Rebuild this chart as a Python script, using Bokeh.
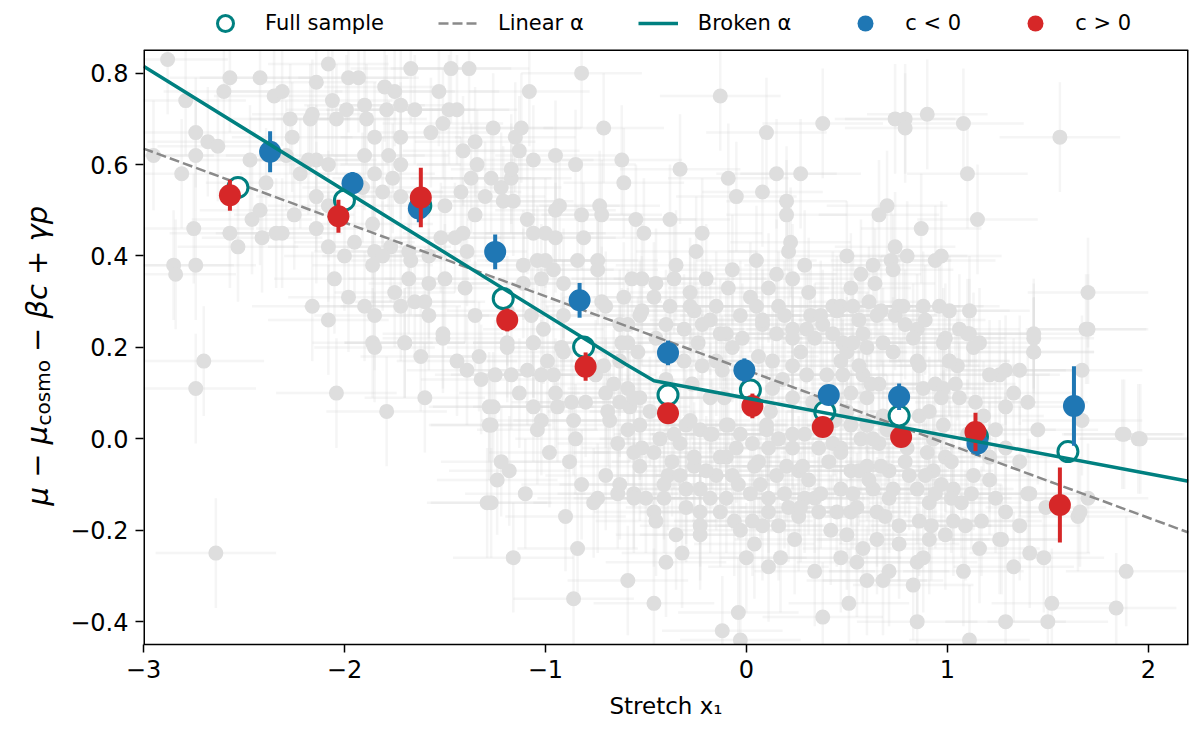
from bokeh.plotting import figure
from bokeh.models import Range1d, Legend, LegendItem, Label, FixedTicker
from bokeh.embed import file_html
from bokeh.resources import INLINE

# binned points: full sample, c < 0, c > 0
full_x = [-2.53, -2.00, -1.62, -1.21, -0.81, -0.39, 0.02, 0.39, 0.76, 1.15, 1.60]
full_y = [0.550, 0.522, 0.510, 0.307, 0.201, 0.096, 0.107, 0.059, 0.050, 0.005, -0.028]

blue_x = [-2.37, -1.96, -1.63, -1.25, -0.83, -0.39, -0.01, 0.41, 0.76, 1.15, 1.63]
blue_y = [0.628, 0.559, 0.504, 0.409, 0.303, 0.188, 0.150, 0.096, 0.092, -0.010, 0.072]
blue_err = [0.045, 0.025, 0.030, 0.038, 0.038, 0.027, 0.026, 0.020, 0.029, 0.027, 0.087]

red_x = [-2.57, -2.03, -1.62, -1.19, -0.80, -0.39, 0.03, 0.38, 0.77, 1.14, 1.56]
red_y = [0.533, 0.487, 0.528, 0.260, 0.158, 0.056, 0.072, 0.026, 0.004, 0.015, -0.145]
red_err = [0.034, 0.036, 0.065, 0.025, 0.031, 0.020, 0.027, 0.020, 0.020, 0.042, 0.082]

# fitted relations
linear_x = [-3.0, 2.2]
linear_y = [0.635, -0.205]
broken_x = [-3.0, -0.60, -0.46, -0.30, 2.2]
broken_y = [0.815, 0.163, 0.127, 0.114, -0.093]

# individual supernovae (background)
gray_pts = [
    (-2.88, 0.83), (-2.57, 0.79), (-2.42, 0.79), (-2.60, 0.76), (-2.79, 0.74), (-2.35, 0.75),
    (-2.31, 0.76), (-2.08, 0.82), (-2.14, 0.78), (-1.98, 0.79), (-1.93, 0.79), (-1.67, 0.81),
    (-1.47, 0.81), (-1.38, 0.81), (-2.06, 0.74), (-1.99, 0.72), (-1.90, 0.73), (-1.80, 0.77),
    (-1.75, 0.76), (-1.72, 0.73), (-1.79, 0.72), (-1.65, 0.72), (-1.53, 0.76), (-1.48, 0.72),
    (-1.44, 0.72), (-2.27, 0.70), (-2.17, 0.70), (-2.16, 0.71), (-2.04, 0.70), (-1.89, 0.70),
    (-1.85, 0.66), (-1.72, 0.66), (-1.57, 0.67), (-1.51, 0.69), (-2.74, 0.67), (-2.68, 0.65),
    (-2.63, 0.64), (-2.26, 0.66), (-2.95, 0.62), (-2.74, 0.62), (-2.47, 0.61), (-2.29, 0.62),
    (-2.18, 0.61), (-2.14, 0.61), (-2.08, 0.60), (-1.90, 0.62), (-1.78, 0.62), (-1.72, 0.60),
    (-1.85, 0.58), (-1.76, 0.57), (-1.41, 0.63), (-1.35, 0.65), (-1.34, 0.60), (-1.37, 0.57),
    (-2.81, 0.58), (-2.39, 0.56), (-2.22, 0.58), (-2.14, 0.53), (-2.08, 0.51), (-1.91, 0.55),
    (-1.81, 0.54), (-1.72, 0.53), (-1.50, 0.51), (-1.42, 0.54), (-1.35, 0.49), (-1.30, 0.53),
    (-2.75, 0.46), (-2.57, 0.45), (-2.53, 0.42), (-2.46, 0.48), (-2.42, 0.50), (-2.41, 0.44),
    (-2.34, 0.45), (-2.31, 0.45), (-2.25, 0.49), (-2.14, 0.46), (-2.08, 0.42), (-2.00, 0.40),
    (-1.95, 0.43), (-1.86, 0.47), (-1.85, 0.41), (-1.77, 0.42), (-1.68, 0.41), (-1.67, 0.39),
    (-1.58, 0.40), (-1.52, 0.44), (-1.45, 0.44), (-1.41, 0.45), (-1.39, 0.41), (-2.85, 0.38),
    (-2.84, 0.36), (-2.74, 0.38), (-2.05, 0.35), (-1.98, 0.31), (-1.86, 0.38), (-1.81, 0.40),
    (-1.75, 0.32), (-1.68, 0.35), (-1.58, 0.34), (-1.50, 0.35), (-1.40, 0.33), (-2.16, 0.29),
    (-2.08, 0.26), (-1.90, 0.29), (-1.85, 0.27), (-1.72, 0.29), (-1.65, 0.30), (-1.60, 0.30),
    (-1.58, 0.27), (-1.51, 0.23), (-1.35, 0.27), (-1.70, 0.21), (-1.86, 0.21),
    (-2.70, 0.17), (-2.74, 0.11), (-2.64, -0.25), (-2.04, 0.10), (-1.85, 0.20), (-1.70, 0.21),
    (-1.62, 0.18), (-1.79, 0.06), (-1.60, 0.09), (-1.51, 0.22), (-1.44, 0.17), (-1.39, 0.15),
    (-1.33, 0.18), (-1.32, 0.13), (-1.28, 0.07), (-1.28, 0.03), (-1.29, -0.14),
    (-0.82, 0.80), (-1.08, 0.76), (-0.13, 0.75), (0.38, 0.69), (0.10, 0.67), (-1.26, 0.68),
    (-1.15, 0.66), (-1.12, 0.68), (-0.71, 0.68), (-1.13, 0.63), (-1.06, 0.61), (-0.95, 0.62),
    (-0.85, 0.60), (-0.62, 0.61), (-0.33, 0.59), (-0.09, 0.57), (0.15, 0.58), (0.27, 0.58),
    (-0.05, 0.53), (0.08, 0.54), (0.20, 0.52), (0.20, 0.49), (-1.27, 0.57), (-1.22, 0.55),
    (-1.17, 0.57), (-1.17, 0.59), (-0.61, 0.56), (-1.21, 0.52), (-1.16, 0.52), (-0.93, 0.51),
    (-0.95, 0.50), (-0.82, 0.49), (-0.73, 0.51), (-0.72, 0.49), (-0.55, 0.48), (-0.51, 0.45),
    (-0.38, 0.48), (-0.22, 0.45), (-1.09, 0.48), (-1.06, 0.45), (-1.00, 0.45), (-0.95, 0.44),
    (-0.81, 0.44), (0.22, 0.43), (0.21, 0.41), (-0.25, 0.41), (-0.84, 0.39), (-0.74, 0.39),
    (-0.74, 0.37), (-0.35, 0.38), (-0.07, 0.37), (0.05, 0.39), (0.29, 0.38), (0.15, 0.36),
    (0.23, 0.35), (-1.11, 0.38), (-1.04, 0.39), (-1.00, 0.39), (-0.96, 0.37), (-0.57, 0.35),
    (-0.52, 0.35), (-0.45, 0.34), (-0.36, 0.35), (-0.28, 0.32), (-0.09, 0.33), (0.11, 0.33),
    (0.43, 0.29), (-1.11, 0.34), (-1.02, 0.35), (-0.91, 0.34), (-0.72, 0.30), (-0.61, 0.31),
    (-0.46, 0.31), (-0.38, 0.29), (-0.26, 0.28), (-0.15, 0.29), (-0.03, 0.27), (0.05, 0.29),
    (0.16, 0.29), (0.32, 0.27), (0.38, 0.25), (-1.19, 0.28), (-1.07, 0.27), (-1.01, 0.24),
    (-0.91, 0.27), (-0.63, 0.25), (-0.53, 0.27), (-0.40, 0.25), (-0.31, 0.24), (-0.22, 0.25),
    (-0.10, 0.23), (0.08, 0.25), (0.15, 0.23), (0.23, 0.24), (0.34, 0.22), (0.43, 0.23),
    (-1.19, 0.21), (-1.06, 0.21), (-0.92, 0.20), (-0.59, 0.21),
    (-1.19, 0.20), (-1.06, 0.21), (-0.99, 0.17), (-0.91, 0.19), (-1.25, 0.14), (-1.17, 0.14),
    (-1.09, 0.15), (-1.02, 0.14), (-0.96, 0.14), (-0.71, 0.16), (-0.63, 0.17), (-0.54, 0.19),
    (-0.66, 0.12), (-0.59, 0.11), (-0.53, 0.09), (-1.26, 0.07), (-1.27, 0.03), (-1.06, 0.07),
    (-1.02, 0.04), (-1.04, 0.02), (-0.94, 0.07), (-0.87, 0.08), (-0.86, 0.04), (-0.69, 0.06),
    (-0.68, 0.04), (-0.58, 0.07), (-0.53, 0.03), (-0.59, 0.02), (-0.64, -0.01), (-0.85, 0.00),
    (-0.88, -0.05), (-0.98, -0.03), (-1.22, -0.05), (-1.18, -0.07), (-1.24, -0.09), (-1.10, -0.12),
    (-1.27, -0.14), (-0.82, -0.10), (-0.74, -0.13), (-0.76, -0.14), (-0.64, -0.12), (-0.56, -0.03),
    (-0.53, -0.06), (-0.46, -0.03), (-0.43, 0.00), (-0.36, 0.01), (-0.30, 0.03), (-0.23, 0.02),
    (-0.17, 0.01), (-0.10, 0.03), (-0.03, 0.01), (0.03, -0.01), (0.10, 0.02), (0.16, 0.00),
    (0.23, -0.02), (0.29, 0.01), (0.36, -0.02), (0.43, -0.01), (-0.56, -0.12), (-0.50, -0.13),
    (-0.46, -0.16), (-0.45, -0.18), (-0.41, -0.13), (-0.39, -0.08), (-0.33, -0.08), (-0.30, -0.11),
    (-0.23, -0.11), (-0.26, -0.06), (-0.23, -0.16), (-0.23, -0.19), (-0.23, -0.21), (-0.35, -0.21),
    (-0.15, -0.08), (-0.10, -0.04), (-0.07, -0.08), (-0.10, -0.13), (0.02, -0.12), (-0.06, -0.18),
    (-0.03, -0.20), (0.03, -0.18), (0.08, -0.19), (0.11, -0.16), (0.04, -0.23), (0.16, -0.19),
    (0.21, -0.15), (0.26, -0.17), (0.29, -0.13), (0.34, -0.13), (0.36, -0.16), (0.20, -0.06),
    (0.26, -0.07), (0.06, -0.05), (0.11, -0.02), (-0.84, -0.24), (-1.16, -0.26), (-0.40, -0.27),
    (-0.59, -0.31), (-0.86, -0.35), (-0.46, -0.36), (-0.04, -0.38), (-0.12, -0.42), (0.11, -0.28),
    (0.34, -0.29), (0.38, -0.39), (-0.03, -0.44),
    (0.74, 0.70), (0.79, 0.70), (0.79, 0.68), (0.90, 0.71), (1.08, 0.69), (1.56, 0.66),
    (1.10, 0.58), (1.15, 0.48), (0.70, 0.51), (0.66, 0.49), (0.87, 0.46), (0.50, 0.40),
    (0.74, 0.42), (0.63, 0.38), (0.72, 0.39), (0.80, 0.40), (0.94, 0.39), (0.97, 0.40),
    (0.57, 0.36), (0.73, 0.37), (1.70, 0.32), (1.70, 0.24), (1.43, 0.22), (0.47, 0.29),
    (0.53, 0.29), (0.61, 0.30), (0.65, 0.27), (0.76, 0.29), (0.88, 0.29), (0.96, 0.29),
    (1.11, 0.28), (0.74, 0.27), (0.79, 0.25), (0.85, 0.24), (1.06, 0.24), (1.11, 0.23),
    (0.99, 0.22), (1.16, 0.21), (0.58, 0.23), (0.68, 0.21), (0.48, 0.21),
    (0.50, 0.19), (0.60, 0.20), (0.73, 0.19), (0.85, 0.17), (0.98, 0.21), (1.01, 0.17),
    (1.05, 0.16), (1.13, 0.20), (1.26, 0.14), (1.36, 0.15), (1.43, 0.19), (1.67, 0.15),
    (0.48, 0.14), (0.58, 0.14), (0.66, 0.12), (0.88, 0.11), (0.94, 0.12), (0.98, 0.11),
    (1.06, 0.09), (1.14, 0.08), (1.29, 0.07), (1.40, 0.08), (1.67, 0.04), (1.87, 0.01),
    (1.96, 0.00), (0.50, 0.06), (0.60, 0.03), (0.68, 0.05), (0.86, 0.05), (0.98, 0.03),
    (1.24, 0.02), (1.29, -0.02), (0.47, -0.02), (0.57, 0.00), (0.66, -0.01), (0.80, -0.02),
    (0.90, -0.03), (0.99, -0.04), (0.52, -0.07), (0.60, -0.06), (0.71, -0.07), (0.81, -0.08),
    (0.93, -0.07), (1.13, -0.08), (1.21, -0.09), (0.47, -0.11), (0.53, -0.12), (0.63, -0.11),
    (0.73, -0.11), (0.85, -0.11), (0.94, -0.12), (1.03, -0.11), (1.12, -0.12), (1.24, -0.13),
    (1.41, -0.12), (1.49, -0.15), (1.65, -0.17), (1.70, -0.13), (0.45, -0.16), (0.55, -0.15),
    (0.65, -0.16), (0.76, -0.19), (0.91, -0.14), (0.92, -0.19), (1.03, -0.18), (1.09, -0.19),
    (1.17, -0.18), (1.29, -0.16), (1.36, -0.19), (1.26, -0.22), (0.50, -0.21), (0.65, -0.22),
    (0.76, -0.23), (0.91, -0.22), (0.99, -0.21), (1.41, -0.25), (1.48, -0.26), (0.47, -0.26),
    (0.55, -0.27), (0.71, -0.29), (0.60, -0.31), (0.68, -0.31), (0.83, -0.32), (0.85, -0.27),
    (1.08, -0.29), (1.89, -0.29), (0.51, -0.36), (0.85, -0.40), (1.29, -0.40), (1.50, -0.40),
    (1.52, -0.36), (1.84, -0.37), (1.11, -0.44),
    (-0.70, 0.29), (-0.59, 0.25), (-0.52, 0.28), (-0.28, 0.29), (-0.18, 0.26), (-0.13, 0.23),
    (-0.24, 0.21), (-0.31, 0.17), (-0.22, 0.16), (-0.15, 0.17), (-0.07, 0.20), (0.08, 0.26),
    (0.19, 0.27), (0.23, 0.22), (0.30, 0.24), (0.37, 0.27), (0.45, 0.28), (0.56, 0.26),
    (0.67, 0.28), (0.78, 0.29), (0.89, 0.26), (1.01, 0.28), (1.10, 0.23), (0.13, 0.17),
    (0.23, 0.16), (0.30, 0.14), (0.47, 0.17), (0.56, 0.16), (0.86, 0.16), (1.01, 0.17),
    (1.21, 0.14), (1.29, 0.15), (1.43, 0.23), (1.43, 0.19), (1.69, 0.24), (1.88, 0.01),
    (1.95, 0.00), (-0.18, 0.09), (-0.11, 0.09), (0.13, 0.11), (0.23, 0.09), (0.52, 0.10),
    (0.60, 0.09), (0.97, 0.09), (-0.70, 0.10), (-0.63, 0.08), (-0.56, 0.09), (-0.28, 0.04),
    (-0.18, 0.01), (-0.09, 0.03), (0.10, 0.03), (0.23, 0.01), (0.52, 0.03), (0.63, 0.00),
    (0.93, 0.00), (-0.52, -0.02), (-0.37, -0.05), (-0.26, -0.04), (-0.13, -0.04), (0.04, -0.06),
    (0.15, -0.08), (0.28, -0.06), (0.41, -0.05), (0.56, -0.07), (0.67, -0.06), (0.89, -0.08),
    (1.02, -0.05), (1.21, -0.04), (1.40, -0.12), (1.66, -0.16), (-0.41, -0.10), (-0.30, -0.15),
    (-0.18, -0.13), (-0.04, -0.10), (0.11, -0.13), (0.27, -0.15), (0.37, -0.12), (0.52, -0.16),
    (0.71, -0.13), (0.86, -0.18), (1.02, -0.13), (1.27, -0.22), (-0.56, -0.13), (-0.63, -0.10),
    (-0.45, 0.22), (-0.38, 0.19), (-0.27, 0.12), (-0.12, 0.15), (-0.02, 0.22), (0.06, 0.18),
    (0.12, 0.06), (0.18, 0.13), (0.27, 0.19), (0.33, 0.08), (0.40, 0.14), (0.44, 0.04),
    (0.53, 0.21), (0.62, 0.12), (0.70, 0.02), (0.77, 0.10), (0.83, 0.22), (0.91, 0.06),
    (1.04, 0.12), (1.10, 0.01), (1.18, 0.05), (1.33, 0.10), (1.36, -0.05), (1.45, 0.02),
    (-0.33, -0.01), (-0.20, -0.07), (-0.05, -0.02), (0.07, -0.10), (0.19, -0.12), (0.31, -0.09),
    (0.47, -0.03), (0.61, -0.09), (0.69, -0.17), (0.79, -0.05), (0.97, -0.10), (1.07, -0.14),
    (1.16, -0.24), (1.33, -0.28), (-0.13, -0.16), (0.00, -0.26), (0.17, -0.26), (0.24, -0.22),
    (0.42, -0.20), (0.58, -0.24), (0.88, -0.26), (-0.48, 0.06), (-0.40, 0.13), (-0.62, 0.21),
    (-0.75, 0.14), (-0.80, 0.08), (-0.95, 0.10), (-1.13, 0.10), (-0.70, -0.08), (-0.90, -0.17),
    (-0.32, -0.25), (0.31, 0.32), (0.52, 0.33), (0.64, 0.34), (-0.20, 0.35), (0.02, 0.31),
]
gray_x_err = 0.30
gray_y_err = 0.12

x_ticks = [-3, -2, -1, 0, 1, 2]
y_ticks = [-0.4, -0.2, 0.0, 0.2, 0.4, 0.6, 0.8]

# data limits of the framed box; the strip above it holds the legend
X0, X1 = -3.0, 2.2
Y0, Y1 = -0.45, 0.85
Y_TOP = 0.959

TEAL = "#008080"
BLUE = "#1f77b4"
RED = "#d62728"
FONT = "DejaVu Sans"

p = figure(width=1196, height=736, output_backend="svg", toolbar_location=None,
           x_range=Range1d(X0, X1), y_range=Range1d(Y0, Y_TOP),
           min_border_left=143, min_border_right=8, min_border_top=0,
           min_border_bottom=92, background_fill_color="white")
p.grid.grid_line_color = None
p.outline_line_color = None

gx = [pt[0] for pt in gray_pts]
gy = [pt[1] for pt in gray_pts]

# faint error bars of the individual objects
p.segment([x - gray_x_err for x in gx], gy, [x + gray_x_err for x in gx], gy,
          line_color="#d8d8d8", line_alpha=0.25, line_width=2.5)
p.segment(gx, [y - gray_y_err for y in gy], gx, [y + gray_y_err for y in gy],
          line_color="#d8d8d8", line_alpha=0.25, line_width=2.5)
p.scatter(gx, gy, size=15, fill_color="#dedede", line_color=None)

# blank strip above the box
p.rect([(X0 + X1) / 2], [(Y1 + Y_TOP) / 2], X1 - X0, Y_TOP - Y1,
       fill_color="white", line_color=None)

lin = p.line(linear_x, linear_y, line_color="#8a8a8a", line_width=2.5, line_dash="10 4")

full = p.scatter(full_x, full_y, size=20, fill_color="white", line_color=TEAL, line_width=3)

p.segment(blue_x, [y - e for y, e in zip(blue_y, blue_err)],
          blue_x, [y + e for y, e in zip(blue_y, blue_err)], line_color=BLUE, line_width=4)
blue = p.scatter(blue_x, blue_y, size=22, fill_color=BLUE, line_color=None)

p.segment(red_x, [y - e for y, e in zip(red_y, red_err)],
          red_x, [y + e for y, e in zip(red_y, red_err)], line_color=RED, line_width=4)
red = p.scatter(red_x, red_y, size=22, fill_color=RED, line_color=None)

brk = p.line(broken_x, broken_y, line_color=TEAL, line_width=3.5)

# box around the data area (top, left and right sides; bottom is the x axis line)
p.segment([X0, X0, X1], [Y1, Y0, Y0], [X1, X0, X1], [Y1, Y1, Y1],
          line_color="black", line_width=[1.5, 3, 3])

legend = Legend(items=[
    LegendItem(label="Full sample", renderers=[full]),
    LegendItem(label="Linear α", renderers=[lin]),
    LegendItem(label="Broken α", renderers=[brk]),
    LegendItem(label="c < 0", renderers=[blue]),
    LegendItem(label="c > 0", renderers=[red]),
], orientation="horizontal", location=(62, 601), border_line_color=None,
   background_fill_alpha=0, padding=0, margin=0, spacing=54, label_standoff=20,
   glyph_width=40, glyph_height=40, label_text_font=FONT, label_text_font_size="21px",
   label_text_color="black")
p.add_layout(legend)

to_label = lambda v, fmt: format(v, fmt).replace("-", "\u2212")
p.xaxis.ticker = FixedTicker(ticks=x_ticks)
p.yaxis.ticker = FixedTicker(ticks=y_ticks)
p.xaxis.major_label_overrides = {t: to_label(t, "g") for t in x_ticks}
p.yaxis.major_label_overrides = {t: to_label(t, ".1f") for t in y_ticks}

for ax in (p.xaxis, p.yaxis):
    ax.minor_tick_line_color = None
    ax.major_tick_in = 0
    ax.major_tick_out = 8
    ax.major_tick_line_width = 1.5
    ax.axis_line_width = 1.5
    ax.major_label_text_font = FONT
    ax.major_label_text_font_size = "24px"
    ax.major_label_text_color = "black"
    ax.major_label_standoff = 7
p.yaxis.axis_line_color = None

p.xaxis.axis_label = "Stretch x\u2081"
p.xaxis.axis_label_text_font = FONT
p.xaxis.axis_label_text_font_size = "23px"
p.xaxis.axis_label_text_font_style = "normal"
p.xaxis.axis_label_text_color = "black"
p.xaxis.axis_label_standoff = 12

# y-axis label: main text with a gap where the subscript goes (canvas pixels)
NBSP = "\u00a0"
ylabel_parts = [
    ("μ − μ" + NBSP * 7 + " − βc + γp", 37, 505, "29px", "italic"),
    ("cosmo", 43, 425, "20px", "normal"),
]
for txt, cx, cy, fs, style in ylabel_parts:
    p.add_layout(Label(x=cx, y=cy, x_units="canvas", y_units="canvas", text=txt,
                       angle=1.5708, text_font=FONT, text_font_size=fs,
                       text_font_style=style, text_baseline="alphabetic",
                       text_align="left", text_color="black"), "left")

open("out.html", "w").write(file_html(p, INLINE))
